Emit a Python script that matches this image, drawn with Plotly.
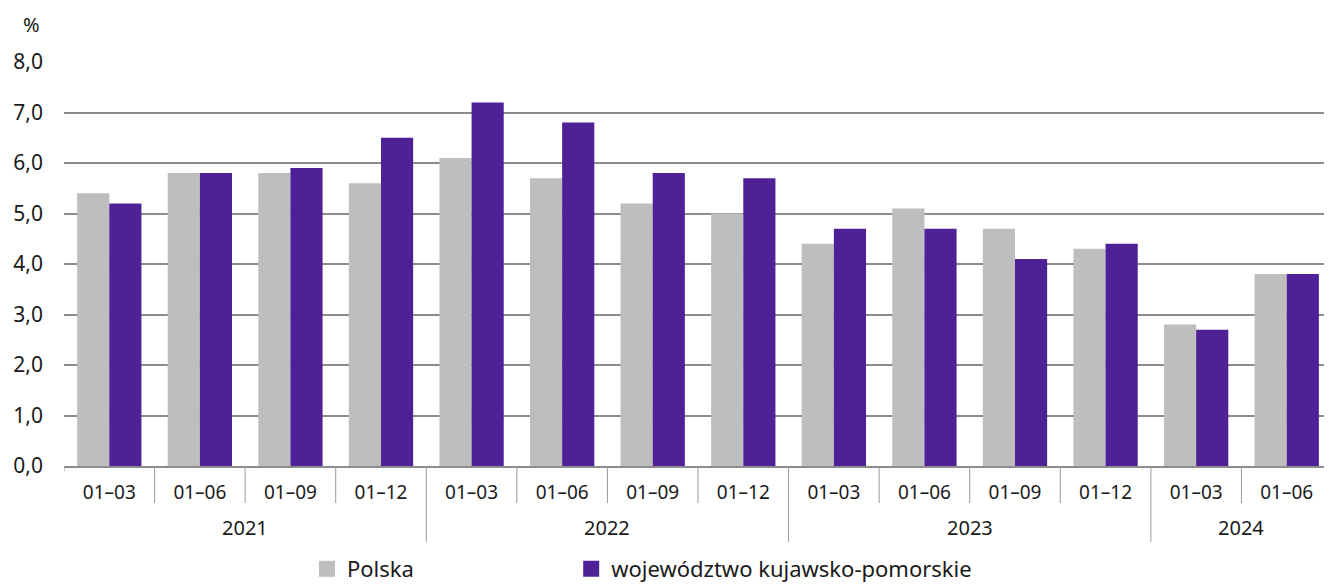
import plotly.graph_objects as go

years = ["2021"] * 4 + ["2022"] * 4 + ["2023"] * 4 + ["2024"] * 2
periods = ["01–03", "01–06", "01–09", "01–12"] * 3 + ["01–03", "01–06"]
polska = [5.4, 5.8, 5.8, 5.6, 6.1, 5.7, 5.2, 5.0, 4.4, 5.1, 4.7, 4.3, 2.8, 3.8]
kujawsko = [5.2, 5.8, 5.9, 6.5, 7.2, 6.8, 5.8, 5.7, 4.7, 4.7, 4.1, 4.4, 2.7, 3.8]
yticks = [0, 1, 2, 3, 4, 5, 6, 7, 8]
ylabels = ["0,0", "1,0", "2,0", "3,0", "4,0", "5,0", "6,0", "7,0", "8,0"]

FONT = "Noto Sans"
GRAY = "#bebebe"
PURPLE = "#4f2196"
LINE = "#9a9a9a"

# unique category keys, shown with the period text only
keys = [y + " " + p for y, p in zip(years, periods)]

fig = go.Figure()
fig.add_trace(go.Bar(x=keys, y=polska, name="Polska",
                     marker_color=GRAY, marker_line_width=0, showlegend=False))
fig.add_trace(go.Bar(x=keys, y=kujawsko, name="województwo kujawsko-pomorskie",
                     marker_color=PURPLE, marker_line_width=0, showlegend=False))

# legend entries (square swatches)
fig.add_trace(go.Scatter(x=[keys[0]], y=[None], mode="markers", name="Polska",
                         marker=dict(symbol="square", size=18, color=GRAY), legend="legend"))
fig.add_trace(go.Scatter(x=[keys[0]], y=[None], mode="markers",
                         name="województwo kujawsko-pomorskie",
                         marker=dict(symbol="square", size=18, color=PURPLE), legend="legend2"))

leg = dict(orientation="h", xanchor="left", yanchor="middle", y=-0.255,
           font=dict(size=22), itemsizing="trace", bgcolor="rgba(0,0,0,0)")

# page body adds an 8px offset, so the figure is 8px smaller
fig.update_layout(
    width=1324, height=580,
    margin=dict(l=56, r=0, t=54, b=122, autoexpand=False),
    paper_bgcolor="white", plot_bgcolor="white",
    font=dict(family=FONT, size=20, color="#1a1a1a"),
    barmode="group", bargap=0.29, bargroupgap=0,
    showlegend=True,
    legend=dict(leg, x=0.1916),
    legend2=dict(leg, x=0.4),
)
fig.add_annotation(text="%", xref="paper", yref="paper", x=-0.026, y=1.0916,
                   xanchor="center", yanchor="middle", showarrow=False,
                   font=dict(size=20))

# year labels and separators below the axis
for yr in dict.fromkeys(years):
    idx = [i for i, v in enumerate(years) if v == yr]
    fig.add_annotation(text=yr, xref="x", yref="paper", x=(idx[0] + idx[-1]) / 2,
                       y=-0.153, xanchor="center", yanchor="middle", showarrow=False,
                       font=dict(size=20))
for i in range(1, len(keys)):
    low = -0.188 if years[i] != years[i - 1] else -0.0916
    fig.add_shape(type="line", xref="x", yref="paper", x0=i - 0.5, x1=i - 0.5,
                  y0=0, y1=low, line=dict(color=LINE, width=1))
fig.add_shape(type="line", xref="x", yref="paper", x0=-0.5, x1=-0.5,
              y0=0, y1=-0.013, line=dict(color=LINE, width=1))

fig.update_yaxes(range=[0, 8], tickvals=yticks, ticktext=ylabels,
                 tickfont=dict(size=21),
                 showgrid=True, gridcolor="#8c8c8c", gridwidth=1.6,
                 zeroline=False, showline=False, ticks="", ticklabelstandoff=20)
fig.update_xaxes(type="category", range=[-0.5, len(keys) - 0.5], autorange=False,
                 tickmode="array", tickvals=keys, ticktext=periods,
                 showline=True, linecolor="#8c8c8c", linewidth=1.6, showgrid=False,
                 tickfont=dict(size=19), ticks="", ticklabelstandoff=8)

fig.write_html("out.html")
